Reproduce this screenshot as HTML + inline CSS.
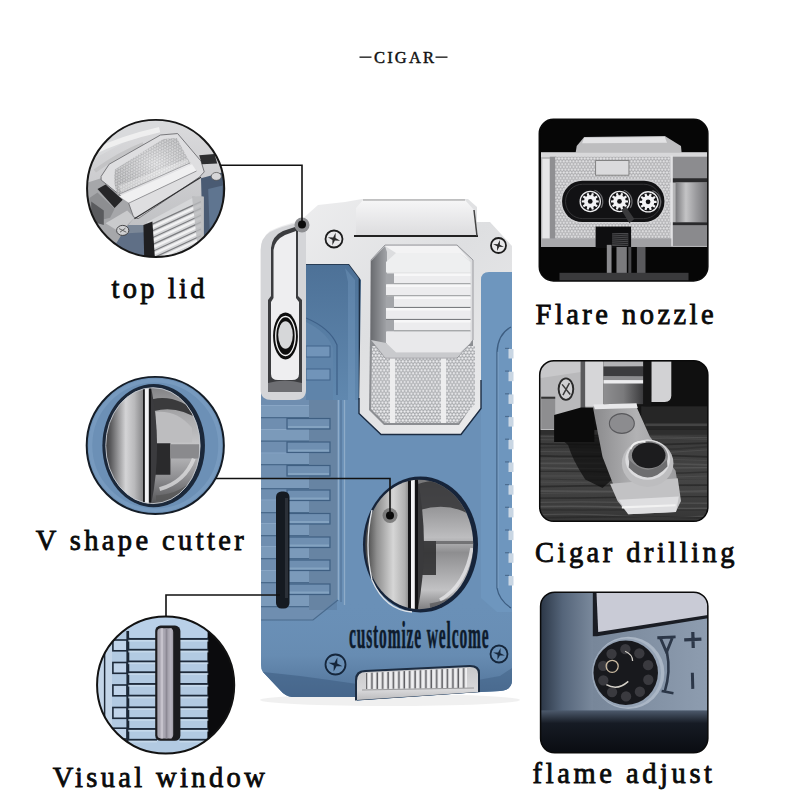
<!DOCTYPE html>
<html><head><meta charset="utf-8">
<style>
html,body{margin:0;padding:0;background:#fff;width:800px;height:800px;overflow:hidden;}
svg{display:block;}
text{font-family:"Liberation Serif",serif;}
</style></head>
<body>
<svg width="800" height="800" viewBox="0 0 800 800">
<defs>
<linearGradient id="gBottom" x1="0" x2="0" y1="0" y2="1">
<stop offset="0" stop-color="#6a90b7" stop-opacity="0"/><stop offset="0.55" stop-color="#678cb2"/><stop offset="1" stop-color="#4f7096"/>
</linearGradient>
<linearGradient id="gSilver" x1="0" x2="1" y1="0" y2="1">
<stop offset="0" stop-color="#f0f0f1"/><stop offset="0.5" stop-color="#dedfe1"/><stop offset="1" stop-color="#ececed"/>
</linearGradient>
<linearGradient id="gLid" x1="0" x2="0" y1="0" y2="1">
<stop offset="0" stop-color="#f6f6f7"/><stop offset="1" stop-color="#dcdcde"/>
</linearGradient>
<linearGradient id="gCutL" x1="0" x2="1">
<stop offset="0" stop-color="#3c3c3c"/><stop offset="0.25" stop-color="#8e8e8e"/><stop offset="0.6" stop-color="#d6d6d6"/><stop offset="0.85" stop-color="#b0b0b0"/><stop offset="1" stop-color="#6a6a6a"/>
</linearGradient>
<linearGradient id="gCutR" x1="0" x2="0" y1="0" y2="1">
<stop offset="0" stop-color="#6a6a6c"/><stop offset="0.28" stop-color="#9c9c9e"/><stop offset="0.45" stop-color="#bdbdbf"/><stop offset="0.55" stop-color="#8e8e90"/><stop offset="0.8" stop-color="#c2c2c4"/><stop offset="1" stop-color="#5a5a5c"/>
</linearGradient>
<linearGradient id="gLP" x1="0" x2="0" y1="0" y2="1"><stop offset="0" stop-color="#4d7197"/><stop offset="1" stop-color="#6088af"/></linearGradient>
<linearGradient id="gBevel" x1="0" x2="1"><stop offset="0" stop-color="#6a6c70"/><stop offset="1" stop-color="#a2a4a8"/></linearGradient>
<pattern id="pMesh" width="3.4" height="5.9" patternUnits="userSpaceOnUse">
<rect width="3.4" height="5.9" fill="#a2a4a8"/><circle cx="1.7" cy="1.5" r="1.25" fill="#ececee"/><circle cx="0" cy="4.45" r="1.25" fill="#ececee"/><circle cx="3.4" cy="4.45" r="1.25" fill="#ececee"/>
</pattern>
<pattern id="pGrille" width="5.4" height="30" patternUnits="userSpaceOnUse">
<rect width="5.4" height="30" fill="#dcdcde"/><rect x="1" width="2" height="30" fill="#f0f0f1"/><rect x="4" width="1.4" height="30" fill="#5d5d61"/>
</pattern>
<linearGradient id="gGrille" x1="0" x2="0" y1="0" y2="1"><stop offset="0" stop-color="#c8c8ca"/><stop offset="0.7" stop-color="#d8d8da"/><stop offset="1" stop-color="#bcbcbe"/></linearGradient>

<linearGradient id="c1bg" x1="0" x2="0" y1="0" y2="1">
<stop offset="0" stop-color="#dcdcde"/><stop offset="1" stop-color="#b8b9bc"/>
</linearGradient>
<pattern id="c1mesh" width="16" height="28" patternUnits="userSpaceOnUse" patternTransform="rotate(-28)">
<rect width="16" height="28" fill="#a9aaad"/><circle cx="8" cy="7" r="6" fill="#e6e6e8"/><circle cx="0" cy="21" r="6" fill="#e6e6e8"/><circle cx="16" cy="21" r="6" fill="#e6e6e8"/>
</pattern>
<radialGradient id="c1meshShade" cx="0.55" cy="0.45" r="0.6">
<stop offset="0" stop-color="#fff" stop-opacity="0.35"/><stop offset="1" stop-color="#888" stop-opacity="0.25"/>
</radialGradient>
<linearGradient id="c2L" x1="0" x2="1">
<stop offset="0" stop-color="#2e2e30"/><stop offset="0.2" stop-color="#5a5a5c"/><stop offset="0.55" stop-color="#d4d4d6"/><stop offset="0.75" stop-color="#b9b9bb"/><stop offset="1" stop-color="#7a7a7c"/>
</linearGradient>
<linearGradient id="c2R" x1="0" x2="0" y1="0" y2="1">
<stop offset="0" stop-color="#7d7d80"/><stop offset="0.25" stop-color="#a8a8aa"/><stop offset="0.5" stop-color="#c6c6c8"/><stop offset="0.75" stop-color="#8f8f92"/><stop offset="1" stop-color="#4a4a4c"/>
</linearGradient>

<pattern id="b1mesh" width="15" height="26" patternUnits="userSpaceOnUse">
<rect width="15" height="26" fill="#a8a8ab"/><circle cx="7.5" cy="6.5" r="5.6" fill="#e2e2e4"/><circle cx="0" cy="19.5" r="5.6" fill="#e2e2e4"/><circle cx="15" cy="19.5" r="5.6" fill="#e2e2e4"/>
</pattern>
<linearGradient id="b1cyl" x1="0" x2="1" y1="0" y2="0">
<stop offset="0" stop-color="#7a7a7d"/><stop offset="0.3" stop-color="#c4c4c6"/><stop offset="0.6" stop-color="#9a9a9d"/><stop offset="1" stop-color="#6a6a6d"/>
</linearGradient>
<linearGradient id="b2wood" x1="0" x2="0" y1="0" y2="1">
<stop offset="0" stop-color="#3a3a3a"/><stop offset="0.5" stop-color="#444"/><stop offset="1" stop-color="#333"/>
</linearGradient>
<linearGradient id="b2mid" x1="0" x2="1"><stop offset="0" stop-color="#8e8e90"/><stop offset="0.5" stop-color="#7a7a7c"/><stop offset="1" stop-color="#3a3a3c"/></linearGradient>
<linearGradient id="b2arm" x1="0" x2="1" y1="0" y2="0">
<stop offset="0" stop-color="#8a8a8c"/><stop offset="0.5" stop-color="#b2b2b4"/><stop offset="1" stop-color="#9a9a9c"/>
</linearGradient>
<linearGradient id="b3face" x1="0" x2="1" y1="0" y2="0">
<stop offset="0" stop-color="#6d7c8f"/><stop offset="1" stop-color="#8e9db0"/>
</linearGradient>
<linearGradient id="b3left" x1="0" x2="1" y1="0" y2="0">
<stop offset="0" stop-color="#273241"/><stop offset="0.45" stop-color="#55657a"/><stop offset="1" stop-color="#7a899c"/>
</linearGradient>
<linearGradient id="b3bottom" x1="0" x2="0" y1="0" y2="1">
<stop offset="0" stop-color="#4d5a6c"/><stop offset="0.25" stop-color="#161b24"/><stop offset="1" stop-color="#06080c"/>
</linearGradient>
</defs>
<rect width="800" height="800" fill="#fff"/>
<g fill="#111">
<rect x="359.5" y="56.5" width="12" height="1.3"/>
<rect x="435.5" y="56.5" width="12" height="1.3"/>
<text x="374" y="62.7" font-size="16.5" stroke="#111" stroke-width="0.45" textLength="60" lengthAdjust="spacing">CIGAR</text>
</g>
<g fill="#0a0a0a" stroke="#0a0a0a" stroke-width="0.8" font-size="28.5">
<text x="111.5" y="298" textLength="93" lengthAdjust="spacing">top lid</text>
<text x="535.6" y="323.5" textLength="178" lengthAdjust="spacing">Flare nozzle</text>
<text x="35.75" y="550" textLength="208" lengthAdjust="spacing">V shape cutter</text>
<text x="535" y="562" textLength="199.5" lengthAdjust="spacing">Cigar drilling</text>
<text x="52.75" y="786.5" textLength="212" lengthAdjust="spacing">Visual window</text>
<text x="532.6" y="783" textLength="179.4" lengthAdjust="spacing">flame adjust</text>
</g>
<g transform="translate(538,118) scale(0.215)">
<clipPath id="b1"><rect x="6" y="6" width="784" height="752" rx="66"/></clipPath>
<g clip-path="url(#b1)">
<rect x="0" y="0" width="800" height="800" fill="#060606"/>
<path d="M175,162 L180,130 L215,88 L590,84 L665,130 L668,162 Z" fill="#bdbdbf"/>
<path d="M215,92 L590,88 L600,115 L205,118 Z" fill="#e2e2e4"/>
<rect x="14" y="160" width="780" height="440" fill="#b4b4b6"/>
<rect x="14" y="160" width="780" height="22" fill="#d8d8da"/>
<rect x="20" y="190" width="35" height="390" fill="#e6e6e8"/>
<rect x="55" y="180" width="30" height="400" fill="#8f8f92"/>
<rect x="80" y="180" width="535" height="400" fill="url(#b1mesh)"/>
<rect x="615" y="180" width="180" height="100" fill="#8c8c8f"/>
<rect x="615" y="280" width="180" height="20" fill="#2a2a2c"/>
<rect x="640" y="300" width="160" height="185" fill="url(#b1cyl)"/>
<rect x="615" y="485" width="180" height="15" fill="#2a2a2c"/>
<rect x="615" y="500" width="180" height="95" fill="#8a8a8d"/>
<rect x="615" y="175" width="12" height="420" fill="#e2e2e4"/>
<rect x="268" y="198" width="155" height="68" fill="#dadadc" stroke="#777" stroke-width="4"/>
<rect x="105" y="285" width="490" height="205" rx="100" fill="#d0d0d2"/>
<rect x="112" y="292" width="476" height="192" rx="94" fill="#121214"/>
<rect x="128" y="308" width="444" height="160" rx="80" fill="none" stroke="#3a3a3c" stroke-width="4"/>
<path d="M263,336 A56,56 0 0 1 293,418" fill="none" stroke="#6a6a6d" stroke-width="6"/>
<circle cx="243" cy="388" r="47" fill="none" stroke="#ededef" stroke-width="6"/>
<polygon points="282.7,383.2 282.7,392.8 271.5,393.6 269.3,400.2 277.9,407.5 272.3,415.2 262.7,409.3 257.1,413.3 259.8,424.3 250.7,427.2 246.5,416.8 239.5,416.8 235.3,427.2 226.2,424.3 228.9,413.3 223.3,409.3 213.7,415.2 208.1,407.5 216.7,400.2 214.5,393.6 203.3,392.8 203.3,383.2 214.5,382.4 216.7,375.8 208.1,368.5 213.7,360.8 223.3,366.7 228.9,362.7 226.2,351.7 235.3,348.8 239.5,359.2 246.5,359.2 250.7,348.8 259.8,351.7 257.1,362.7 262.7,366.7 272.3,360.8 277.9,368.5 269.3,375.8 271.5,382.4" fill="#f2f2f4"/>
<circle cx="243" cy="388" r="11" fill="#121214"/>
<path d="M399,336 A56,56 0 0 1 429,418" fill="none" stroke="#6a6a6d" stroke-width="6"/>
<circle cx="379" cy="388" r="47" fill="none" stroke="#ededef" stroke-width="6"/>
<polygon points="418.7,383.2 418.7,392.8 407.5,393.6 405.3,400.2 413.9,407.5 408.3,415.2 398.7,409.3 393.1,413.3 395.8,424.3 386.7,427.2 382.5,416.8 375.5,416.8 371.3,427.2 362.2,424.3 364.9,413.3 359.3,409.3 349.7,415.2 344.1,407.5 352.7,400.2 350.5,393.6 339.3,392.8 339.3,383.2 350.5,382.4 352.7,375.8 344.1,368.5 349.7,360.8 359.3,366.7 364.9,362.7 362.2,351.7 371.3,348.8 375.5,359.2 382.5,359.2 386.7,348.8 395.8,351.7 393.1,362.7 398.7,366.7 408.3,360.8 413.9,368.5 405.3,375.8 407.5,382.4" fill="#f2f2f4"/>
<circle cx="379" cy="388" r="11" fill="#121214"/>
<path d="M532,338 A56,56 0 0 1 562,420" fill="none" stroke="#6a6a6d" stroke-width="6"/>
<circle cx="512" cy="390" r="47" fill="none" stroke="#ededef" stroke-width="6"/>
<polygon points="551.7,385.2 551.7,394.8 540.5,395.6 538.3,402.2 546.9,409.5 541.3,417.2 531.7,411.3 526.1,415.3 528.8,426.3 519.7,429.2 515.5,418.8 508.5,418.8 504.3,429.2 495.2,426.3 497.9,415.3 492.3,411.3 482.7,417.2 477.1,409.5 485.7,402.2 483.5,395.6 472.3,394.8 472.3,385.2 483.5,384.4 485.7,377.8 477.1,370.5 482.7,362.8 492.3,368.7 497.9,364.7 495.2,353.7 504.3,350.8 508.5,361.2 515.5,361.2 519.7,350.8 528.8,353.7 526.1,364.7 531.7,368.7 541.3,362.8 546.9,370.5 538.3,377.8 540.5,384.4" fill="#f2f2f4"/>
<circle cx="512" cy="390" r="11" fill="#121214"/>
<path d="M388,428 L408,412 L448,470 L425,490 Z" fill="#3a3a3c"/>
<rect x="14" y="560" width="260" height="40" fill="#a8a8ab"/>
<rect x="430" y="560" width="190" height="40" fill="#a0a0a3"/>
<rect x="268" y="505" width="165" height="100" fill="#0e0e10"/>
<rect x="345" y="535" width="75" height="60" fill="#4a4a4d"/>
<line x1="345" y1="540" x2="420" y2="544" stroke="#1a1a1c" stroke-width="4"/>
<line x1="345" y1="549" x2="420" y2="553" stroke="#1a1a1c" stroke-width="4"/>
<line x1="345" y1="558" x2="420" y2="562" stroke="#1a1a1c" stroke-width="4"/>
<line x1="345" y1="567" x2="420" y2="571" stroke="#1a1a1c" stroke-width="4"/>
<line x1="345" y1="576" x2="420" y2="580" stroke="#1a1a1c" stroke-width="4"/>
<line x1="345" y1="585" x2="420" y2="589" stroke="#1a1a1c" stroke-width="4"/>
<rect x="320" y="590" width="22" height="170" fill="#8a8a8d"/>
<rect x="365" y="600" width="48" height="160" fill="#7a7a7d"/>
<rect x="420" y="600" width="14" height="160" fill="#4a4a4d"/>
<rect x="460" y="600" width="40" height="160" fill="#5a5a5d"/>
<rect x="100" y="720" width="600" height="40" fill="#3a3a3c"/>
</g>
<rect x="6" y="6" width="784" height="752" rx="66" fill="none" stroke="#0a0a0a" stroke-width="7"/>
</g>
<g transform="translate(538,359) scale(0.215)">
<clipPath id="b2"><rect x="8" y="8" width="782" height="747" rx="66"/></clipPath>
<g clip-path="url(#b2)">
<rect x="0" y="0" width="800" height="800" fill="#141414"/>
<rect x="0" y="340" width="800" height="460" fill="url(#b2wood)"/>
<path d="M0,359 Q200,362 400,362 T800,366" stroke="#666" stroke-width="4" fill="none" opacity="0.55"/>
<path d="M0,375 Q200,382 400,373 T800,374" stroke="#666" stroke-width="3" fill="none" opacity="0.55"/>
<path d="M0,395 Q200,399 400,399 T800,391" stroke="#1c1c1c" stroke-width="8" fill="none" opacity="0.55"/>
<path d="M0,413 Q200,405 400,417 T800,407" stroke="#2a2a2a" stroke-width="8" fill="none" opacity="0.55"/>
<path d="M0,430 Q200,431 400,436 T800,422" stroke="#666" stroke-width="3" fill="none" opacity="0.55"/>
<path d="M0,450 Q200,455 400,450 T800,456" stroke="#1c1c1c" stroke-width="8" fill="none" opacity="0.55"/>
<path d="M0,466 Q200,459 400,462 T800,473" stroke="#5e5e5e" stroke-width="3" fill="none" opacity="0.55"/>
<path d="M0,485 Q200,486 400,485 T800,493" stroke="#5e5e5e" stroke-width="8" fill="none" opacity="0.55"/>
<path d="M0,506 Q200,511 400,509 T800,505" stroke="#666" stroke-width="6" fill="none" opacity="0.55"/>
<path d="M0,523 Q200,520 400,528 T800,525" stroke="#222" stroke-width="6" fill="none" opacity="0.55"/>
<path d="M0,544 Q200,542 400,548 T800,544" stroke="#666" stroke-width="3" fill="none" opacity="0.55"/>
<path d="M0,558 Q200,565 400,562 T800,565" stroke="#222" stroke-width="3" fill="none" opacity="0.55"/>
<path d="M0,573 Q200,578 400,569 T800,565" stroke="#5e5e5e" stroke-width="3" fill="none" opacity="0.55"/>
<path d="M0,594 Q200,589 400,588 T800,587" stroke="#1c1c1c" stroke-width="8" fill="none" opacity="0.55"/>
<path d="M0,614 Q200,614 400,616 T800,613" stroke="#666" stroke-width="6" fill="none" opacity="0.55"/>
<path d="M0,626 Q200,620 400,621 T800,619" stroke="#5e5e5e" stroke-width="3" fill="none" opacity="0.55"/>
<path d="M0,647 Q200,647 400,643 T800,640" stroke="#1c1c1c" stroke-width="6" fill="none" opacity="0.55"/>
<path d="M0,667 Q200,663 400,667 T800,671" stroke="#5e5e5e" stroke-width="6" fill="none" opacity="0.55"/>
<path d="M0,687 Q200,682 400,690 T800,695" stroke="#666" stroke-width="8" fill="none" opacity="0.55"/>
<path d="M0,702 Q200,703 400,702 T800,702" stroke="#1c1c1c" stroke-width="4" fill="none" opacity="0.55"/>
<path d="M0,724 Q200,716 400,730 T800,729" stroke="#5e5e5e" stroke-width="6" fill="none" opacity="0.55"/>
<path d="M0,739 Q200,735 400,733 T800,741" stroke="#222" stroke-width="8" fill="none" opacity="0.55"/>
<path d="M60,330 L300,300 L320,420 L345,560 L300,600 L220,560 Q160,470 140,400 Z" fill="#0c0c0c" opacity="0.7"/>
<rect x="0" y="330" width="800" height="22" fill="#2e2e2e"/>
<rect x="500" y="0" width="300" height="330" fill="#101010"/>
<rect x="480" y="220" width="320" height="110" fill="#262626"/>
<rect x="500" y="300" width="300" height="12" fill="#444"/>
<path d="M0,10 L300,10 L300,230 L250,230 L200,260 L75,330 L0,330 Z" fill="#b9b9bb"/>
<path d="M0,10 L200,10 L200,60 L0,90 Z" fill="#c8c8ca"/>
<path d="M15,175 L80,175 L80,325 L15,325 Z" fill="#8e8e90"/>
<path d="M15,175 L80,175 L80,185 L15,185 Z" fill="#333"/>
<rect x="198" y="10" width="22" height="220" fill="#5a5a5c"/>
<path d="M75,260 L200,225 L262,225 L262,386 L75,386 Z" fill="#0b0b0b"/>
<ellipse cx="130" cy="140" rx="34" ry="50" fill="#cfcfd1" stroke="#2a2a2a" stroke-width="9"/>
<path d="M112,118 L150,165 M146,112 L116,168" stroke="#3a3a3a" stroke-width="7"/>
<rect x="220" y="10" width="85" height="210" fill="#d6d6d8"/>
<rect x="305" y="10" width="185" height="200" fill="url(#b2mid)"/>
<rect x="305" y="10" width="185" height="25" fill="#b4b4b6"/>
<rect x="305" y="35" width="185" height="45" fill="#3c3c3e"/>
<rect x="305" y="80" width="185" height="18" fill="#8c8c8e"/>
<rect x="305" y="98" width="185" height="16" fill="#ececee"/>
<rect x="490" y="10" width="38" height="210" fill="#151515"/>
<path d="M528,10 L620,10 L620,170 Q620,200 590,200 L528,200 Z" fill="#d2d2d4"/>
<path d="M255,222 L455,215 L520,360 L640,520 L662,660 L640,710 L420,720 L380,660 L300,455 Z" fill="url(#b2arm)"/>
<path d="M258,212 L458,206 L464,228 L264,234 Z" fill="#e8e8ea"/>
<ellipse cx="390" cy="300" rx="58" ry="46" fill="#8c8c8f" stroke="#5a5a5d" stroke-width="5"/>
<path d="M335,580 L650,555 L665,660 L640,712 L420,722 L370,660 Z" fill="#c2c2c4"/>
<path d="M375,655 L655,640 L642,712 L420,722 Z" fill="#dedee0"/>
<path d="M390,690 L640,680" stroke="#f2f2f2" stroke-width="10"/>
<ellipse cx="510" cy="485" rx="120" ry="110" fill="#bdbdbf"/>
<ellipse cx="510" cy="468" rx="104" ry="94" fill="#dcdcde"/>
<ellipse cx="512" cy="455" rx="92" ry="74" fill="#8a8a8c"/>
<ellipse cx="515" cy="448" rx="78" ry="60" fill="#1c1c1e"/>
<path d="M425,470 Q510,560 600,470 L602,500 Q512,600 422,505 Z" fill="#6e6e70"/>
<path d="M430,420 Q440,380 500,385" stroke="#f0f0f0" stroke-width="8" fill="none"/>
</g>
<rect x="8" y="8" width="782" height="747" rx="66" fill="none" stroke="#0a0a0a" stroke-width="7"/>
</g>
<g transform="translate(538,590) scale(0.215)">
<clipPath id="b3"><rect x="12" y="10" width="778" height="747" rx="66"/></clipPath>
<g clip-path="url(#b3)">
<rect x="0" y="0" width="800" height="800" fill="url(#b3face)"/>
<rect x="0" y="0" width="255" height="620" fill="url(#b3left)"/>
<path d="M255,0 L800,0 L800,130 L275,215 L255,215 Z" fill="#1a1d24"/>
<path d="M272,10 L800,10 L800,115 L280,195 Z" fill="#c9cbd6"/>
<circle cx="420" cy="386" r="168" fill="#aab6c5"/>
<circle cx="412" cy="386" r="160" fill="#95a3b5"/>
<circle cx="408" cy="385" r="150" fill="#18191d"/>
<circle cx="513.1" cy="417.5" r="24" fill="#3a3a3f"/>
<circle cx="473.9" cy="473.1" r="24" fill="#3a3a3f"/>
<circle cx="409.6" cy="495.0" r="24" fill="#3a3a3f"/>
<circle cx="344.6" cy="474.9" r="24" fill="#3a3a3f"/>
<circle cx="303.9" cy="420.5" r="24" fill="#3a3a3f"/>
<circle cx="302.9" cy="352.5" r="24" fill="#3a3a3f"/>
<circle cx="342.1" cy="296.9" r="24" fill="#3a3a3f"/>
<circle cx="406.4" cy="275.0" r="24" fill="#3a3a3f"/>
<circle cx="471.4" cy="295.1" r="24" fill="#3a3a3f"/>
<circle cx="512.1" cy="349.5" r="24" fill="#3a3a3f"/>
<circle cx="345" cy="355" r="28" fill="none" stroke="#c9b9a0" stroke-width="6"/>
<path d="M318,440 Q370,470 420,425" fill="none" stroke="#d4d0c8" stroke-width="7"/>
<path d="M405,285 Q440,300 440,330" fill="none" stroke="#d4d0c8" stroke-width="6"/>
<path d="M555,222 L640,218 M570,225 L598,290 L625,222" stroke="#2c3748" stroke-width="13" fill="none"/>
<path d="M600,290 Q618,380 590,470 M575,470 L630,480" stroke="#2c3748" stroke-width="12" fill="none"/>
<path d="M680,232 L760,228 M720,195 L722,270" stroke="#2c3748" stroke-width="15" fill="none"/>
<path d="M718,385 L720,460" stroke="#2c3748" stroke-width="14" fill="none"/>
<rect x="0" y="560" width="800" height="240" fill="url(#b3bottom)"/>
</g>
<rect x="12" y="10" width="778" height="747" rx="66" fill="none" stroke="#0a0a0a" stroke-width="7"/>
</g>
<g transform="translate(84,117) scale(0.18)">
<clipPath id="c1"><circle cx="398" cy="397" r="381"/></clipPath>
<g clip-path="url(#c1)">
<rect x="0" y="0" width="800" height="800" fill="url(#c1bg)"/>
<path d="M0,260 L380,60 L520,40 L800,200 L800,0 L0,0 Z" fill="#d9dadc"/>
<path d="M40,200 Q200,120 420,70" stroke="#f4f4f4" stroke-width="30" fill="none" opacity="0.8"/>
<path d="M60,300 Q200,200 330,150" stroke="#bdbdbf" stroke-width="22" fill="none" opacity="0.7"/>
<path d="M650,340 L800,300 L800,800 L640,800 L660,700 Z" fill="#4a5b73"/>
<path d="M690,400 L770,380 L760,640 L700,690 Z" fill="#5f7590"/>
<path d="M0,560 L200,600 L345,600 L345,800 L0,800 Z" fill="#7b8797"/>
<path d="M170,650 L340,640 L340,800 L170,800 Z" fill="#5f6f86"/>
<path d="M0,370 L95,340 L240,460 L280,560 L230,620 L180,700 L0,650 Z" fill="#a6a7aa"/>
<path d="M75,400 L120,375 L215,460 L170,505 Z" fill="#262628"/>
<path d="M30,450 L75,420 L170,510 L145,560 L60,580 L30,540 Z" fill="#8d8e91"/>
<path d="M40,470 L110,520 L110,600 L40,580 Z" fill="#5a5b5e"/>
<path d="M120,590 L240,520 L280,560 L200,640 Z" fill="#c9cacc"/>
<path d="M95,330 L140,262 L425,100 L520,92 L650,245 L668,305 L640,335 L300,565 L275,555 L245,470 L95,350 Z" fill="#dedee0" stroke="#6d6d70" stroke-width="5"/>
<path d="M172,292 L440,122 L515,116 L590,255 L188,432 Q160,380 172,292 Z" fill="url(#c1mesh)"/>
<path d="M172,292 L440,122 L515,116 L590,255 L188,432 Q160,380 172,292 Z" fill="url(#c1meshShade)"/>
<path d="M200,400 L580,250" stroke="#fff" stroke-width="40" opacity="0.35"/>
<path d="M188,432 L590,255" fill="none" stroke="#9a9a9d" stroke-width="5"/>
<path d="M195,440 L600,262 L625,300 L250,478 Z" fill="#f0f0f1"/>
<path d="M250,478 L625,300" fill="none" stroke="#8a8a8d" stroke-width="5"/>
<path d="M280,565 L650,335" fill="none" stroke="#2f2f31" stroke-width="6"/>
<path d="M640,212 L725,205 L740,258 L655,262 Z" fill="#2d2e30"/>
<ellipse cx="735" cy="330" rx="28" ry="22" fill="#d6d6d8" stroke="#555" stroke-width="4"/>
<path d="M350,585 L620,440 L665,445 L665,800 L350,800 Z" fill="#d5d6d8"/>
<path d="M380,595 L650,470" stroke="#7c7d80" stroke-width="7"/>
<path d="M380,612 L650,487" stroke="#f2f2f3" stroke-width="12"/>
<path d="M380,633 L650,508" stroke="#7c7d80" stroke-width="7"/>
<path d="M380,650 L650,525" stroke="#f2f2f3" stroke-width="12"/>
<path d="M380,671 L650,546" stroke="#7c7d80" stroke-width="7"/>
<path d="M380,688 L650,563" stroke="#f2f2f3" stroke-width="12"/>
<path d="M380,709 L650,584" stroke="#7c7d80" stroke-width="7"/>
<path d="M380,726 L650,601" stroke="#f2f2f3" stroke-width="12"/>
<path d="M380,747 L650,622" stroke="#7c7d80" stroke-width="7"/>
<path d="M380,764 L650,639" stroke="#f2f2f3" stroke-width="12"/>
<path d="M380,785 L650,660" stroke="#7c7d80" stroke-width="7"/>
<path d="M380,802 L650,677" stroke="#f2f2f3" stroke-width="12"/>
<path d="M380,823 L650,698" stroke="#7c7d80" stroke-width="7"/>
<path d="M380,840 L650,715" stroke="#f2f2f3" stroke-width="12"/>
<path d="M380,861 L650,736" stroke="#7c7d80" stroke-width="7"/>
<path d="M380,878 L650,753" stroke="#f2f2f3" stroke-width="12"/>
<path d="M380,899 L650,774" stroke="#7c7d80" stroke-width="7"/>
<path d="M380,916 L650,791" stroke="#f2f2f3" stroke-width="12"/>
<path d="M330,600 L380,580 L395,800 L335,800 Z" fill="#1f1f21"/>
<path d="M600,440 L665,440 L665,800 L640,800 Z" fill="#b8b9bc" opacity="0.8"/>
<ellipse cx="215" cy="630" rx="34" ry="28" fill="#cfd0d2" stroke="#3a3a3c" stroke-width="5"/>
<path d="M195,620 L235,640 M200,640 L230,618" stroke="#555" stroke-width="5"/>
</g>
<circle cx="398" cy="397" r="381" fill="none" stroke="#161616" stroke-width="11"/>
</g>
<g transform="translate(84,374) scale(0.18)">
<circle cx="396" cy="397" r="381" fill="#6c90b6"/>
<circle cx="396" cy="397" r="360" fill="none" stroke="#7fa1c4" stroke-width="20" opacity="0.6"/>
<ellipse cx="387" cy="398" rx="285" ry="342" fill="#1b283a"/>
<clipPath id="c2"><ellipse cx="383" cy="398" rx="262" ry="322"/></clipPath>
<g clip-path="url(#c2)">
<rect x="100" y="50" width="240" height="700" fill="url(#c2L)"/>
<rect x="340" y="50" width="330" height="700" fill="url(#c2R)"/>
<path d="M380,140 Q520,110 640,230 L650,260 Q520,170 390,205 Z" fill="#3a3a3c"/>
<path d="M400,210 Q520,200 600,300 L600,380 L400,380 Z" fill="#bdbdbf"/>
<path d="M395,385 L480,385 L480,560 L395,560 Z" fill="#2a2a2c"/>
<path d="M480,390 L640,390 L640,470 L480,470 Z" fill="#8a8a8d"/>
<path d="M420,640 Q560,600 610,470" fill="none" stroke="#e0e0e2" stroke-width="22" opacity="0.75"/>
<path d="M400,690 Q560,680 650,560" fill="none" stroke="#555" stroke-width="30" opacity="0.7"/>
<path d="M372,70 Q440,400 372,730 L360,730 L360,70 Z" fill="#3b3b3e"/>
<rect x="328" y="60" width="44" height="680" fill="#161618"/>
<rect x="338" y="60" width="22" height="680" fill="#f1f1f3"/>
</g>
<ellipse cx="383" cy="398" rx="262" ry="322" fill="none" stroke="#c8cdd4" stroke-width="5"/>
<circle cx="396" cy="397" r="381" fill="none" stroke="#141c26" stroke-width="11"/>
</g>
<g transform="translate(94,613) scale(0.18)">
<clipPath id="c3"><circle cx="398" cy="400" r="381"/></clipPath>
<g clip-path="url(#c3)">
<rect x="0" y="0" width="800" height="800" fill="#b2cae2"/>
<rect x="0" y="0" width="100" height="800" fill="#c3d5e8"/>
<rect x="55" y="200" width="8" height="600" fill="#1d2836"/>
<rect x="630" y="0" width="170" height="800" fill="#0b0b0d"/>
<rect x="180" y="100" width="16" height="700" fill="#1b2735"/>
<rect x="190" y="139" width="160" height="11" fill="#1d2a3a"/>
<rect x="475" y="139" width="160" height="11" fill="#1d2a3a"/>
<rect x="190" y="149" width="160" height="10" fill="#cfe0f0" opacity="0.7"/>
<rect x="475" y="149" width="160" height="10" fill="#cfe0f0" opacity="0.7"/>
<rect x="190" y="199" width="160" height="11" fill="#1d2a3a"/>
<rect x="475" y="199" width="160" height="11" fill="#1d2a3a"/>
<rect x="190" y="209" width="160" height="10" fill="#cfe0f0" opacity="0.7"/>
<rect x="475" y="209" width="160" height="10" fill="#cfe0f0" opacity="0.7"/>
<rect x="190" y="264" width="160" height="11" fill="#1d2a3a"/>
<rect x="475" y="264" width="160" height="11" fill="#1d2a3a"/>
<rect x="190" y="274" width="160" height="10" fill="#cfe0f0" opacity="0.7"/>
<rect x="475" y="274" width="160" height="10" fill="#cfe0f0" opacity="0.7"/>
<rect x="190" y="324" width="160" height="11" fill="#1d2a3a"/>
<rect x="475" y="324" width="160" height="11" fill="#1d2a3a"/>
<rect x="190" y="334" width="160" height="10" fill="#cfe0f0" opacity="0.7"/>
<rect x="475" y="334" width="160" height="10" fill="#cfe0f0" opacity="0.7"/>
<rect x="190" y="389" width="160" height="11" fill="#1d2a3a"/>
<rect x="475" y="389" width="160" height="11" fill="#1d2a3a"/>
<rect x="190" y="399" width="160" height="10" fill="#cfe0f0" opacity="0.7"/>
<rect x="475" y="399" width="160" height="10" fill="#cfe0f0" opacity="0.7"/>
<rect x="190" y="454" width="160" height="11" fill="#1d2a3a"/>
<rect x="475" y="454" width="160" height="11" fill="#1d2a3a"/>
<rect x="190" y="464" width="160" height="10" fill="#cfe0f0" opacity="0.7"/>
<rect x="475" y="464" width="160" height="10" fill="#cfe0f0" opacity="0.7"/>
<rect x="190" y="519" width="160" height="11" fill="#1d2a3a"/>
<rect x="475" y="519" width="160" height="11" fill="#1d2a3a"/>
<rect x="190" y="529" width="160" height="10" fill="#cfe0f0" opacity="0.7"/>
<rect x="475" y="529" width="160" height="10" fill="#cfe0f0" opacity="0.7"/>
<rect x="190" y="579" width="160" height="11" fill="#1d2a3a"/>
<rect x="475" y="579" width="160" height="11" fill="#1d2a3a"/>
<rect x="190" y="589" width="160" height="10" fill="#cfe0f0" opacity="0.7"/>
<rect x="475" y="589" width="160" height="10" fill="#cfe0f0" opacity="0.7"/>
<rect x="190" y="639" width="160" height="11" fill="#1d2a3a"/>
<rect x="475" y="639" width="160" height="11" fill="#1d2a3a"/>
<rect x="190" y="649" width="160" height="10" fill="#cfe0f0" opacity="0.7"/>
<rect x="475" y="649" width="160" height="10" fill="#cfe0f0" opacity="0.7"/>
<rect x="190" y="699" width="160" height="11" fill="#1d2a3a"/>
<rect x="475" y="699" width="160" height="11" fill="#1d2a3a"/>
<rect x="190" y="709" width="160" height="10" fill="#cfe0f0" opacity="0.7"/>
<rect x="475" y="709" width="160" height="10" fill="#cfe0f0" opacity="0.7"/>
<rect x="105" y="150" width="78" height="60" fill="#c0d4ea" stroke="#1d2a3a" stroke-width="9"/>
<rect x="105" y="275" width="78" height="60" fill="#c0d4ea" stroke="#1d2a3a" stroke-width="9"/>
<rect x="105" y="400" width="78" height="60" fill="#c0d4ea" stroke="#1d2a3a" stroke-width="9"/>
<rect x="105" y="525" width="78" height="60" fill="#c0d4ea" stroke="#1d2a3a" stroke-width="9"/>
<rect x="105" y="640" width="78" height="60" fill="#c0d4ea" stroke="#1d2a3a" stroke-width="9"/>
<rect x="196" y="0" width="434" height="135" fill="#b9d0e8"/>
<rect x="340" y="70" width="140" height="640" rx="30" fill="#1c1c1f"/>
<rect x="352" y="85" width="88" height="612" rx="20" fill="#a8a5b0"/>
<rect x="370" y="85" width="14" height="612" fill="#c6c3cc"/>
<rect x="398" y="85" width="10" height="612" fill="#8c8994"/>
<rect x="420" y="85" width="12" height="612" fill="#b7b4bf"/>
</g>
<circle cx="398" cy="400" r="381" fill="none" stroke="#121212" stroke-width="11"/>
</g>
<g id="lighter"><ellipse cx="390" cy="700" rx="130" ry="6" fill="#000" opacity="0.06"/>
<path d="M261,250 L512,246 L512,680 Q512,690 500,691 L481,692 L357,700.5 L357,697 L292,697 Q285,696 280,690 L263,672 Q261,669 261,664 Z" fill="#6a90b7"/>
<path d="M261,600 L512,600 L512,680 Q512,690 500,691 L481,692 L357,700.5 L357,697 L292,697 Q285,696 280,690 L263,672 Q261,669 261,664 Z" fill="url(#gBottom)"/>
<path d="M263,672 L300,676 Q330,680 357,684 L357,697 L292,697 Q285,696 280,690 Z" fill="#3f5f84" opacity="0.6"/>
<path d="M478,680 L500,676 L512,668 L512,680 Q512,690 500,691 L478,692 Z" fill="#3f5f84" opacity="0.5"/>
<path d="M261,395 L338,395 L338,598 L313,620 L261,620 Z" fill="#6f8eb0"/>
<rect x="309" y="395" width="28" height="215" fill="#000" opacity="0.07"/>
<rect x="261" y="406" width="48" height="11" fill="#7b9aba"/>
<rect x="261" y="417" width="48" height="1.3" fill="#4a6a8c"/>
<rect x="261" y="405" width="48" height="1" fill="#94b1cf" opacity="0.7"/>
<rect x="261" y="430" width="48" height="10.5" fill="#7b9aba"/>
<rect x="261" y="440.5" width="48" height="1.3" fill="#4a6a8c"/>
<rect x="261" y="429" width="48" height="1" fill="#94b1cf" opacity="0.7"/>
<rect x="261" y="453.5" width="48" height="10.5" fill="#7b9aba"/>
<rect x="261" y="464" width="48" height="1.3" fill="#4a6a8c"/>
<rect x="261" y="452.5" width="48" height="1" fill="#94b1cf" opacity="0.7"/>
<rect x="261" y="479" width="48" height="9" fill="#7b9aba"/>
<rect x="261" y="488" width="48" height="1.3" fill="#4a6a8c"/>
<rect x="261" y="478" width="48" height="1" fill="#94b1cf" opacity="0.7"/>
<rect x="261" y="500.5" width="48" height="11.5" fill="#7b9aba"/>
<rect x="261" y="512" width="48" height="1.3" fill="#4a6a8c"/>
<rect x="261" y="499.5" width="48" height="1" fill="#94b1cf" opacity="0.7"/>
<rect x="261" y="524" width="48" height="11" fill="#7b9aba"/>
<rect x="261" y="535" width="48" height="1.3" fill="#4a6a8c"/>
<rect x="261" y="523" width="48" height="1" fill="#94b1cf" opacity="0.7"/>
<rect x="261" y="547" width="48" height="11" fill="#7b9aba"/>
<rect x="261" y="558" width="48" height="1.3" fill="#4a6a8c"/>
<rect x="261" y="546" width="48" height="1" fill="#94b1cf" opacity="0.7"/>
<rect x="261" y="571" width="48" height="11" fill="#7b9aba"/>
<rect x="261" y="582" width="48" height="1.3" fill="#4a6a8c"/>
<rect x="261" y="570" width="48" height="1" fill="#94b1cf" opacity="0.7"/>
<rect x="261" y="595" width="48" height="11" fill="#7b9aba"/>
<rect x="261" y="606" width="48" height="1.3" fill="#4a6a8c"/>
<rect x="261" y="594" width="48" height="1" fill="#94b1cf" opacity="0.7"/>
<rect x="287" y="418.5" width="43" height="10.5" fill="#6f8fb1" stroke="#3f5f82" stroke-width="1.2"/>
<rect x="288" y="426.0" width="41" height="2" fill="#8aa8c6" opacity="0.8"/>
<rect x="287" y="442" width="43" height="10.5" fill="#6f8fb1" stroke="#3f5f82" stroke-width="1.2"/>
<rect x="288" y="449.5" width="41" height="2" fill="#8aa8c6" opacity="0.8"/>
<rect x="287" y="465.5" width="43" height="10.5" fill="#6f8fb1" stroke="#3f5f82" stroke-width="1.2"/>
<rect x="288" y="473.0" width="41" height="2" fill="#8aa8c6" opacity="0.8"/>
<rect x="287" y="490" width="43" height="10.5" fill="#6f8fb1" stroke="#3f5f82" stroke-width="1.2"/>
<rect x="288" y="497.5" width="41" height="2" fill="#8aa8c6" opacity="0.8"/>
<rect x="287" y="513.5" width="43" height="10.5" fill="#6f8fb1" stroke="#3f5f82" stroke-width="1.2"/>
<rect x="288" y="521.0" width="41" height="2" fill="#8aa8c6" opacity="0.8"/>
<rect x="287" y="537" width="43" height="10.5" fill="#6f8fb1" stroke="#3f5f82" stroke-width="1.2"/>
<rect x="288" y="544.5" width="41" height="2" fill="#8aa8c6" opacity="0.8"/>
<rect x="287" y="560" width="43" height="10.5" fill="#6f8fb1" stroke="#3f5f82" stroke-width="1.2"/>
<rect x="288" y="567.5" width="41" height="2" fill="#8aa8c6" opacity="0.8"/>
<rect x="287" y="584" width="43" height="10.5" fill="#6f8fb1" stroke="#3f5f82" stroke-width="1.2"/>
<rect x="288" y="591.5" width="41" height="2" fill="#8aa8c6" opacity="0.8"/>
<path d="M261,620 L313,620 L338,600" fill="none" stroke="#4a6a8c" stroke-width="1.2"/>
<line x1="338.5" y1="395" x2="338.5" y2="600" stroke="#8eabc8" stroke-width="1.3"/>
<line x1="341" y1="395" x2="341" y2="602" stroke="#4f6f92" stroke-width="1"/>
<line x1="344.5" y1="395" x2="344.5" y2="605" stroke="#8eabc8" stroke-width="1.3"/>
<path d="M306,264 L349,264 L361,280 L361,400 L306,400 Z" fill="url(#gLP)"/>
<path d="M306,264 L349,264 L359.5,278 L359.5,400" fill="none" stroke="#1c2c40" stroke-width="1.6"/>
<path d="M345,268 L355,280 L355,400 L348,400 L348,282 Z" fill="#7aa0c6" opacity="0.35"/>
<path d="M306,318 Q330,328 337,345 L337,395" fill="none" stroke="#3e6088" stroke-width="1.2"/>
<path d="M306,322 Q327,332 333,348 L333,400 L306,400 Z" fill="#5f84aa"/>
<rect x="306" y="346" width="24" height="11" fill="#7194b9" stroke="#42658b" stroke-width="1"/>
<rect x="306" y="369" width="24" height="11" fill="#7194b9" stroke="#42658b" stroke-width="1"/>
<path d="M481,279 Q481,271 489,271 L512,271 L512,612 L497,612 L481,598 Z" fill="#6e96be"/>
<path d="M511,327 Q498,334 497,352 L497,588 Q499,600 511,608" fill="none" stroke="#3d5d80" stroke-width="1.3"/>
<path d="M498,352 L498,588" stroke="#8fb0d0" stroke-width="1" opacity="0.6"/>
<rect x="508.5" y="349.0" width="5" height="9.5" fill="#c9d6e3"/>
<rect x="505" y="347.8" width="4" height="1.2" fill="#4d6d90"/>
<rect x="508.5" y="371.7" width="5" height="9.5" fill="#c9d6e3"/>
<rect x="505" y="370.5" width="4" height="1.2" fill="#4d6d90"/>
<rect x="508.5" y="394.4" width="5" height="9.5" fill="#c9d6e3"/>
<rect x="505" y="393.2" width="4" height="1.2" fill="#4d6d90"/>
<rect x="508.5" y="417.1" width="5" height="9.5" fill="#c9d6e3"/>
<rect x="505" y="415.9" width="4" height="1.2" fill="#4d6d90"/>
<rect x="508.5" y="439.8" width="5" height="9.5" fill="#c9d6e3"/>
<rect x="505" y="438.6" width="4" height="1.2" fill="#4d6d90"/>
<rect x="508.5" y="462.5" width="5" height="9.5" fill="#c9d6e3"/>
<rect x="505" y="461.3" width="4" height="1.2" fill="#4d6d90"/>
<rect x="508.5" y="485.2" width="5" height="9.5" fill="#c9d6e3"/>
<rect x="505" y="484.0" width="4" height="1.2" fill="#4d6d90"/>
<rect x="508.5" y="507.9" width="5" height="9.5" fill="#c9d6e3"/>
<rect x="505" y="506.7" width="4" height="1.2" fill="#4d6d90"/>
<rect x="508.5" y="530.6" width="5" height="9.5" fill="#c9d6e3"/>
<rect x="505" y="529.4" width="4" height="1.2" fill="#4d6d90"/>
<rect x="508.5" y="553.3" width="5" height="9.5" fill="#c9d6e3"/>
<rect x="505" y="552.1" width="4" height="1.2" fill="#4d6d90"/>
<rect x="508.5" y="576.0" width="5" height="9.5" fill="#c9d6e3"/>
<rect x="505" y="574.8" width="4" height="1.2" fill="#4d6d90"/>
<path d="M261,250 Q261,238 270,231 Q282,225 300,221 L318,205 L345,202 L362,199 L468,199 L477,207 L477,222 L490,222 L512,246 L512,272 L489,272 Q481,272 481,280 L481,408 L461,434 L381,434 L359,413 L361,280 L349,264 L306,264 L306,252 Z" fill="url(#gSilver)"/>
<path d="M356,236 L356,208 L363,200 L465,200 L474,210 L477,236 Z" fill="url(#gLid)"/>
<path d="M354,236 L478,236" stroke="#222" stroke-width="2.2"/>
<path d="M474,210 L477,236" stroke="#444" stroke-width="1.5"/>
<path d="M363,200 L465,200" stroke="#9a9a9a" stroke-width="1"/>
<path d="M359,398 L359,413.5 L381,434.5 L461,434.5 L481,408.5 L481,380" fill="none" stroke="#1c2c42" stroke-width="1.4"/>
<path d="M371,260 L385,245 L457,245 L473,260 L473,404 L459,425 L384,425 L369,410 Z" fill="#8c8e92"/>
<path d="M372,346 L475,346 L475,404 L458,423 L385,423 L371,409 Z" fill="url(#pMesh)"/>
<rect x="390" y="354" width="5" height="69" fill="#ededee"/>
<rect x="441" y="354" width="5" height="69" fill="#ededee"/>
<path d="M371,260 L385,245 L457,245 L473,260 L473,340 L457,358 L385,358 L371,340 Z" fill="#dcdddf" stroke="#8a8c90" stroke-width="0.8"/>
<path d="M371,261 L385,246 L387,252 L387,352 L385,357 L371,340 Z" fill="url(#gBevel)"/>
<path d="M386,262 L396,253 L460,253 L470.5,262 L470.5,272.5 L386,272.5 Z" fill="#eeeff0"/>
<path d="M385,246 L457,246 L470.5,261 L460,253 L396,253 Z" fill="#f3f3f4"/>
<rect x="394" y="273.5" width="76.5" height="11.0" fill="#ececee"/>
<rect x="394" y="273.5" width="76.5" height="2.5" fill="#f7f7f8"/>
<rect x="394" y="283.4" width="76.5" height="1.1" fill="#7a7c80"/>
<rect x="386" y="273.5" width="8" height="11.0" fill="#a3a5a9"/>
<rect x="386" y="284.5" width="84.5" height="12.0" fill="#ececee"/>
<rect x="386" y="284.5" width="84.5" height="2.5" fill="#f7f7f8"/>
<rect x="386" y="295.4" width="84.5" height="1.1" fill="#7a7c80"/>
<rect x="394" y="296.5" width="76.5" height="11.5" fill="#ececee"/>
<rect x="394" y="296.5" width="76.5" height="2.5" fill="#f7f7f8"/>
<rect x="394" y="306.9" width="76.5" height="1.1" fill="#7a7c80"/>
<rect x="386" y="296.5" width="8" height="11.5" fill="#a3a5a9"/>
<rect x="386" y="308" width="84.5" height="12" fill="#ececee"/>
<rect x="386" y="308" width="84.5" height="2.5" fill="#f7f7f8"/>
<rect x="386" y="318.9" width="84.5" height="1.1" fill="#7a7c80"/>
<rect x="394" y="320" width="76.5" height="11.5" fill="#ececee"/>
<rect x="394" y="320" width="76.5" height="2.5" fill="#f7f7f8"/>
<rect x="394" y="330.4" width="76.5" height="1.1" fill="#7a7c80"/>
<rect x="386" y="320" width="8" height="11.5" fill="#a3a5a9"/>
<path d="M386,331.5 L470.5,331.5 L470.5,343 L460,352.5 L396,352.5 L386,343 Z" fill="#e9e9eb"/>
<path d="M386,343 L396,352.5 L460,352.5 L470.5,343 L473,340 L457,357 L385,357 L371,340 Z" fill="#c9cacd"/>
<path d="M260.6,250 Q260.6,238 270,232 Q282,226 298,223 L306,232 L306,390 Q306,400 295,400 L272,400 Q260.6,400 260.6,390 Z" fill="#d4d5d8"/>
<path d="M268,392 L268,300 L271,296 L271,248 Q272,236 283,231 L298,226 L298,296 L302,300 L302,392 Z" fill="#3b3c3f"/>
<path d="M271,374 L271,302 L273.5,298 L273.5,250 Q274.5,240 285,235 L296,231 L296,298 L299,302 L299,374 Q299,380 292,380 L278,380 Q271,380 271,374 Z" fill="#eeeef0"/>
<path d="M268,383 Q285,378 302,383 L302,392 L268,392 Z" fill="#6d6e72"/>
<ellipse cx="285.5" cy="336" rx="12.4" ry="23.5" fill="#0d0d0d"/>
<ellipse cx="285.5" cy="336" rx="9.8" ry="19.5" fill="none" stroke="#f2f2f2" stroke-width="1.3"/>
<ellipse cx="285.5" cy="335" rx="7.3" ry="13.8" fill="#d6d7d9"/>
<circle cx="302" cy="225" r="7.5" fill="#8d8e91"/>
<circle cx="334" cy="239" r="8.5" fill="#e8e8ea" stroke="#1c1c1c" stroke-width="1.8"/>
<polygon points="340.16,240.65 334.89,240.55 332.35,245.16 332.45,239.89 327.84,237.35 333.11,237.45 335.65,232.84 335.55,238.11" fill="#2a2a2a"/>
<circle cx="498.5" cy="245.5" r="7.5" fill="#e8e8ea" stroke="#1c1c1c" stroke-width="1.8"/>
<polygon points="503.93,246.96 499.29,246.86 497.04,250.93 497.14,246.29 493.07,244.04 497.71,244.14 499.96,240.07 499.86,244.71" fill="#2a2a2a"/>
<ellipse cx="420.5" cy="544.5" rx="57.5" ry="68" fill="#16243a"/>
<clipPath id="cw"><ellipse cx="419.2" cy="544.5" rx="54" ry="64.8"/></clipPath>
<g clip-path="url(#cw)">
<rect x="365" y="470" width="47" height="150" fill="url(#gCutL)"/>
<rect x="412" y="470" width="70" height="150" fill="url(#gCutR)"/>
<path d="M418,484 Q452,472 478,500 L478,520 Q452,500 420,510 Z" fill="#3a3a3c" opacity="0.9"/>
<rect x="420" y="541" width="16" height="34" fill="#2a2a2c" opacity="0.85"/>
<rect x="436" y="541" width="40" height="3" fill="#5a5a5c" opacity="0.7"/>
<path d="M440,600 Q466,585 472,548" fill="none" stroke="#e6e6e8" stroke-width="3.5" opacity="0.8"/>
<path d="M430,606 Q462,602 476,575" fill="none" stroke="#4a4a4c" stroke-width="5" opacity="0.6"/>
<path d="M417,476 Q431,544 417,614 L412,614 L412,476 Z" fill="#3a3a3c"/>
<rect x="408" y="474" width="10" height="142" fill="#131315"/>
<rect x="411" y="474" width="3.8" height="142" fill="#f4f4f6"/>
</g>
<path d="M372,510 Q364,545 372,580 Q385,610 412,612" fill="none" stroke="#dfe3e8" stroke-width="1.3"/>
<circle cx="390" cy="515.5" r="7.5" fill="#666" opacity="0.75"/>
<circle cx="390" cy="515.5" r="4" fill="#0a0a0a"/>
<rect x="276" y="491.5" width="13.5" height="117" rx="5.5" fill="#151a21"/>
<rect x="285" y="498" width="3" height="100" fill="#3a3f48" opacity="0.6"/>
<text transform="translate(349,648.3) scale(0.43,1.03)" font-size="36" font-weight="bold" letter-spacing="2.0" fill="#0e1b2c" stroke="#0e1b2c" stroke-width="0.6">customize welcome</text>
<circle cx="335.5" cy="664.5" r="10" fill="#6a8fb5" stroke="#15263b" stroke-width="1.8"/>
<polygon points="342.45,666.36 336.51,666.25 333.64,671.45 333.75,665.51 328.55,662.64 334.49,662.75 337.36,657.55 337.25,663.49" fill="#15263b"/>
<circle cx="499" cy="654" r="8.5" fill="#6a8fb5" stroke="#15263b" stroke-width="1.8"/>
<polygon points="504.91,655.58 499.86,655.48 497.42,659.91 497.52,654.86 493.09,652.42 498.14,652.52 500.58,648.09 500.48,653.14" fill="#15263b"/>
<path d="M355,700.5 L355,680 Q355,670 365,670 L470,665 Q480,665 480,673 L480,692 Z" fill="#1d2d42"/>
<path d="M357,700 L357,681 Q357,672 366,672 L470,667 Q478,667 478,674 L478,692 Z" fill="url(#gGrille)"/>
<path d="M366,673 L467,668 L467,688 L366,689 Z" fill="url(#pGrille)"/>
<path d="M362,690 L474,688" stroke="#9a9a9c" stroke-width="1"/></g>
<path d="M221,165.2 L302,165.2 L302,224" fill="none" stroke="#111" stroke-width="1.6"/>
<circle cx="302" cy="224.5" r="4" fill="#0a0a0a"/>
<path d="M216,478.5 L390,478.5 L390,515" fill="none" stroke="#111" stroke-width="1.6"/>
<path d="M166,617 L166,595 L280,595" fill="none" stroke="#111" stroke-width="1.6"/>
</svg>
</body></html>
